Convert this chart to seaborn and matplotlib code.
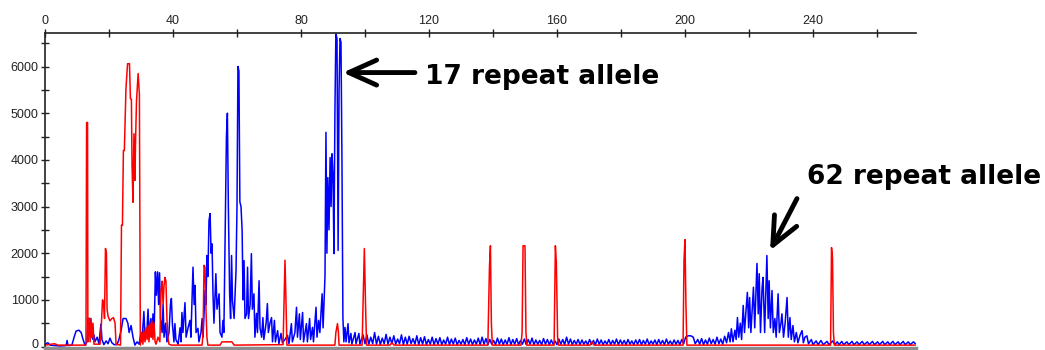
import matplotlib
matplotlib.use("Agg")
import matplotlib.pyplot as plt
import matplotlib.transforms as mtransforms
import seaborn as sns
import pandas as pd
from matplotlib.ticker import MultipleLocator

# ---------------- data ----------------
# size axis in bp units, signal in RFU
blue_main = [
    (0, 50), (0.9, 80), (1.6, 30), (3.1, 20), (4.7, 10), (6.6, 20), (6.9, 130), (7.2, 20), (8.4, 30),
    (9.1, 200), (9.7, 330), (10.6, 350), (11.3, 300), (11.9, 150), (12.5, 30), (13.1, 100), (13.4, 600),
    (14.1, 600), (14.4, 250), (15.0, 150), (15.3, 250), (15.6, 100), (16.3, 200), (16.9, 50), (17.2, 300),
    (17.5, 480), (17.8, 150), (18.4, 40), (19.1, 120), (19.7, 60), (20.3, 180), (20.9, 80), (21.6, 40),
    (22.5, 40), (23.1, 150), (23.8, 350), (24.4, 600), (25.3, 600), (25.9, 500), (26.3, 300), (26.9, 450),
    (27.5, 200), (28.1, 30), (28.75, 100), (29.4, 50), (30.0, 300), (30.3, 100), (30.9, 750), (31.25, 200),
    (31.9, 400), (32.2, 800), (32.5, 300), (33.1, 600), (33.4, 200), (33.75, 700), (34.1, 300), (34.5, 1600),
    (34.8, 1100), (35.2, 1600), (35.5, 900), (35.8, 1580), (36.1, 600), (36.6, 300), (36.9, 900), (37.2, 200),
    (37.7, 500), (38.1, 100), (38.75, 300), (39.2, 900), (39.5, 1030), (39.8, 500), (40.3, 100), (40.6, 490),
    (40.9, 150), (41.6, 50), (42.2, 400), (42.5, 100), (42.8, 730), (43.1, 300), (43.75, 940), (44.1, 200),
    (44.7, 400), (45.3, 560), (45.6, 200), (46.25, 1700), (46.6, 900), (46.9, 1310), (47.2, 300), (47.8, 390),
    (48.1, 100), (48.75, 300), (49.1, 600), (49.4, 200), (50.0, 1200), (50.3, 900), (50.6, 1950), (50.9, 1500),
    (51.25, 2700), (51.6, 2850), (51.9, 2000), (52.2, 2200), (52.5, 1130), (52.8, 500), (53.4, 1560),
    (53.75, 800), (54.4, 1130), (54.7, 300), (55.3, 200), (55.6, 560), (55.9, 300), (56.4, 3000), (56.7, 4500),
    (57.0, 5000), (57.3, 3000), (57.7, 1130), (58.0, 600), (58.3, 1950), (58.6, 980), (59.1, 600), (59.7, 1630),
    (60.0, 3000), (60.3, 6000), (60.6, 5900), (60.9, 3100), (61.25, 3000), (61.6, 2500), (61.9, 1000),
    (62.2, 1840), (62.5, 600), (63.0, 700), (63.3, 1700), (63.6, 600), (64.1, 900), (64.5, 1990), (64.8, 800),
    (65.3, 1130), (65.6, 200), (66.1, 710), (66.4, 300), (66.9, 1410), (67.2, 400), (67.7, 200), (68.1, 620),
    (68.4, 150), (69.1, 500), (69.5, 920), (69.8, 300), (70.3, 500), (70.8, 620), (71.1, 100), (71.7, 560),
    (72.0, 100), (72.7, 340), (73.1, 60), (73.75, 280), (74.2, 80), (75.0, 150), (75.8, 240), (76.25, 60),
    (77.0, 490), (77.3, 100), (78.1, 300), (78.6, 840), (78.9, 200), (79.5, 700), (79.8, 150), (80.5, 730),
    (80.8, 100), (81.7, 490), (82.0, 100), (82.7, 600), (83.0, 150), (83.6, 410), (83.9, 100), (84.7, 840),
    (85.0, 200), (85.5, 560), (85.9, 300), (86.6, 1130), (86.9, 400), (87.2, 920), (87.5, 1500), (87.8, 4590),
    (88.1, 2000), (88.4, 3620), (88.75, 2500), (89.1, 4050), (89.4, 3000), (89.7, 4130), (90.0, 3700),
    (90.3, 1990), (90.6, 5000), (90.9, 6700), (91.25, 6600), (91.6, 2060), (91.9, 5500), (92.2, 6600),
    (92.5, 6520), (92.8, 4000), (93.1, 620), (93.4, 100), (93.75, 410), (94.1, 100), (94.7, 490), (95.0, 80),
    (95.6, 280), (95.9, 50), (96.9, 300), (97.2, 60), (98.1, 280), (98.4, 50), (99.4, 250),
]

blue_noise = [
    (100.0, 60), (100.6, 250), (101.2, 50), (101.8, 200), (102.4, 60), (103.0, 300), (103.6, 50), (104.2, 220),
    (104.8, 40), (105.4, 180), (106.0, 60), (106.6, 260), (107.2, 50), (107.8, 200), (108.4, 60), (109.0, 230),
    (109.6, 50), (110.2, 160), (110.8, 60), (111.4, 250), (112.0, 40), (112.6, 200), (113.2, 50), (113.8, 220),
    (114.4, 60), (115.0, 170), (115.6, 50), (116.2, 230), (116.8, 40), (117.4, 190), (118.0, 50), (118.6, 210),
    (119.2, 40), (119.8, 150), (120.4, 50), (121.0, 200), (121.6, 40), (122.2, 170), (122.8, 50), (123.4, 190),
    (124.0, 40), (124.6, 140), (125.2, 50), (125.8, 200), (126.4, 40), (127.0, 160), (127.6, 50), (128.2, 180),
    (128.8, 40), (129.4, 130), (130.0, 50), (130.6, 150), (131.2, 40), (131.8, 190), (132.4, 50), (133.0, 160),
    (133.6, 40), (134.2, 140), (134.8, 50), (135.4, 180), (136.0, 40), (136.6, 200), (137.2, 50), (137.8, 170),
    (138.4, 40), (139.0, 150), (139.6, 50), (140.2, 130), (140.8, 40), (141.4, 180), (142.0, 50), (142.6, 160),
    (143.2, 40), (143.8, 140), (144.4, 50), (145.0, 190), (145.6, 40), (146.2, 150), (146.8, 50), (147.4, 170),
    (148.0, 40), (148.6, 130), (149.2, 50), (149.8, 160), (150.4, 40), (151.0, 150), (151.6, 50), (152.2, 180),
    (152.8, 40), (153.4, 140), (154.0, 50), (154.6, 130), (155.2, 40), (155.8, 170), (156.4, 50), (157.0, 150),
    (157.6, 40), (158.2, 140), (158.8, 50), (159.4, 120), (160.0, 40), (160.6, 160), (161.2, 50), (161.8, 150),
    (162.4, 40), (163.0, 200), (163.6, 50), (164.2, 160), (164.8, 40), (165.4, 130), (166.0, 50), (166.6, 150),
    (167.2, 40), (167.8, 140), (168.4, 50), (169.0, 120), (169.6, 40), (170.2, 150), (170.8, 50), (171.4, 130),
    (172.0, 40), (172.6, 160), (173.2, 50), (173.8, 140), (174.4, 40), (175.0, 120), (175.6, 50), (176.2, 150),
    (176.8, 40), (177.4, 130), (178.0, 50), (178.6, 160), (179.2, 40), (179.8, 140), (180.4, 50), (181.0, 130),
    (181.6, 40), (182.2, 150), (182.8, 50), (183.4, 120), (184.0, 40), (184.6, 140), (185.2, 50), (185.8, 150),
    (186.4, 40), (187.0, 130), (187.6, 50), (188.2, 160), (188.8, 40), (189.4, 120), (190.0, 50), (190.6, 140),
    (191.2, 40), (191.8, 150), (192.4, 50), (193.0, 130), (193.6, 40), (194.2, 160), (194.8, 50), (195.4, 120),
    (196.0, 40), (196.6, 140), (197.2, 50), (197.8, 130), (198.4, 40), (199.0, 150), (199.6, 60), (200.2, 200),
    (201.0, 230), (201.8, 230), (202.6, 200), (203.2, 60), (204.0, 150), (204.6, 50), (205.2, 170), (205.8, 40),
    (206.4, 140), (207.0, 50), (207.6, 180), (208.2, 60), (208.8, 150), (209.4, 50), (210.0, 200), (210.6, 60),
    (211.2, 160), (211.8, 50), (212.4, 220), (213.0, 80),
]

blue_cluster = [
    (213.6, 300), (214.1, 100), (214.5, 380), (215.0, 100), (215.6, 350), (216.0, 150), (216.4, 620),
    (216.8, 200), (217.3, 500), (217.7, 150), (218.2, 880), (218.6, 300), (219.0, 700), (219.5, 1160),
    (219.9, 400), (220.2, 1050), (220.6, 300), (221.0, 800), (221.4, 1270), (221.8, 400), (222.5, 1780),
    (222.9, 700), (223.2, 1560), (223.6, 300), (224.1, 1260), (224.4, 1480), (224.9, 300), (225.6, 1950),
    (226.0, 600), (226.3, 1410), (226.7, 400), (227.2, 1200), (227.6, 300), (228.1, 600), (228.5, 200),
    (229.1, 1130), (229.5, 300), (230.0, 500), (230.3, 700), (230.8, 200), (231.3, 500), (231.9, 1050),
    (232.3, 200), (232.8, 620), (233.2, 150), (233.75, 450), (234.2, 100), (234.8, 300), (235.3, 80),
    (236.0, 250), (236.6, 340), (237.0, 80), (237.5, 200), (238.1, 230), (238.6, 60), (239.5, 150),
    (240.0, 40), (241.0, 120), (241.6, 40), (242.5, 130), (243.2, 40), (244.4, 110), (245.0, 40),
    (246.2, 120), (246.8, 40), (247.6, 100), (248.2, 40), (249.0, 110), (249.6, 40), (250.6, 100),
    (251.2, 40), (252.2, 110), (252.8, 40), (253.8, 100), (254.4, 40), (255.4, 110), (256.0, 40),
    (257.0, 100), (257.6, 40), (258.6, 110), (259.2, 40), (260.2, 100), (260.8, 40), (261.8, 110),
    (262.4, 40), (263.4, 100), (264.0, 40), (265.0, 110), (265.6, 40), (266.6, 100), (267.2, 40),
    (268.2, 110), (268.8, 40), (269.8, 100), (270.4, 40), (271.4, 100), (272.0, 60),
]

red_trace = [
    (0, 30), (3, 60), (4, 30), (12.8, 30), (13.0, 4800), (13.3, 4800), (13.4, 100), (13.75, 600), (14.1, 100),
    (14.4, 600), (14.7, 200), (15.0, 500), (15.3, 50), (17.2, 50), (17.5, 300), (17.97, 1000), (18.3, 950),
    (18.6, 600), (18.9, 2100), (19.2, 2000), (19.4, 800), (19.7, 650), (20.3, 550), (20.9, 600), (21.4, 620),
    (21.9, 500), (22.2, 50), (23.6, 30), (23.9, 2600), (24.2, 2600), (24.5, 4200), (24.8, 4200), (25.3, 5530),
    (25.8, 6060), (26.4, 6060), (26.7, 5310), (27.0, 5300), (27.2, 3880), (27.5, 3090), (27.8, 4560),
    (28.1, 3560), (28.3, 4400), (28.6, 5270), (29.1, 5850), (29.5, 5400), (29.8, 30), (30.3, 300), (30.6, 50),
    (30.9, 350), (31.25, 100), (31.6, 400), (31.9, 150), (32.2, 450), (32.5, 100), (32.8, 500), (33.1, 200),
    (33.4, 550), (33.75, 150), (34.1, 500), (34.4, 100), (34.7, 50), (35.3, 200), (35.9, 100), (36.25, 1200),
    (36.6, 1400), (36.9, 900), (37.2, 1300), (37.5, 1480), (37.8, 1400), (38.1, 600), (38.4, 200), (38.75, 50),
    (39.5, 30), (49.1, 30), (49.4, 300), (49.7, 1740), (50.0, 1700), (50.3, 800), (50.6, 200), (50.9, 30),
    (54.7, 30), (55.3, 100), (58.4, 100), (59.1, 30), (74.4, 40), (74.7, 1000), (75.0, 1850), (75.3, 1000),
    (75.6, 30), (90.6, 30), (90.9, 300), (91.4, 490), (91.7, 300), (91.9, 30), (99.1, 30), (99.5, 1200),
    (99.8, 2100), (100.2, 800), (100.5, 30), (107.8, 30), (108.4, 80), (109.1, 30), (138.4, 30), (138.9, 1700),
    (139.2, 2160), (139.5, 500), (139.8, 30), (148.75, 30), (149.1, 300), (149.4, 2160), (150.0, 2160),
    (150.3, 300), (150.6, 30), (159.1, 30), (159.5, 2160), (159.8, 1800), (160.2, 200), (160.5, 30),
    (170.3, 30), (170.9, 100), (171.6, 30), (199.4, 30), (199.7, 1850), (200.0, 2290), (200.3, 900),
    (200.6, 30), (245.5, 30), (245.8, 2120), (246.1, 1900), (246.4, 300), (246.7, 30), (272, 30),
]

x_ticks = [0, 40, 80, 120, 160, 200, 240]
y_ticks = [0, 1000, 2000, 3000, 4000, 5000, 6000]

label_17 = "17 repeat allele"
label_62 = "62 repeat allele"
arrow_17 = {"tip": (93.1, 5870), "tail": (115.6, 5870), "text": (118.8, 5770)}
arrow_62 = {"tip": (226.6, 2057), "tail": (235.0, 3170), "text": (238.1, 3640)}

# ---------------- plot ----------------
sns.set_theme(style="white")
plt.rcParams["font.family"] = ["Liberation Sans", "DejaVu Sans"]

blue_df = pd.DataFrame(blue_main + blue_noise + blue_cluster, columns=["size", "rfu"])
red_df = pd.DataFrame(red_trace, columns=["size", "rfu"])

fig = plt.figure(figsize=(10.45, 3.5), dpi=100)
fig.patch.set_facecolor("white")
ax = fig.add_axes([45 / 1045, 2.5 / 350, 871 / 1045, 314.5 / 350])
ax.set_facecolor("white")

sns.lineplot(data=blue_df, x="size", y="rfu", ax=ax, color="#0000FF", lw=1.1,
             estimator=None, sort=False)
sns.lineplot(data=red_df, x="size", y="rfu", ax=ax, color="#FF0000", lw=1.1,
             estimator=None, sort=False)

ax.set_xlim(0, 272.2)
ax.set_ylim(-21, 6718)
ax.set_xlabel("")
ax.set_ylabel("")

ax.xaxis.tick_top()
ax.set_xticks(x_ticks)
ax.set_xticklabels([str(v) for v in x_ticks])
ax.xaxis.set_minor_locator(MultipleLocator(20))
ax.set_yticks(y_ticks)
ax.set_yticklabels([str(v) for v in y_ticks])
ax.yaxis.set_minor_locator(MultipleLocator(500))

ax.tick_params(axis="both", which="both", direction="inout", length=6, width=1,
               color="#222222", labelsize=9, labelcolor="#222222")
ax.tick_params(axis="x", which="both", top=True, bottom=False, pad=1.5)
ax.tick_params(axis="y", which="both", left=True, right=False, pad=1.5)

# nudge the "0" y label up slightly so it stays inside the canvas
zero_lab = ax.get_yticklabels()[0]
zero_lab.set_transform(zero_lab.get_transform() +
                       mtransforms.ScaledTranslation(0, 2.5 / 72, fig.dpi_scale_trans))

for side in ["top", "left"]:
    ax.spines[side].set_visible(True)
    ax.spines[side].set_color("#222222")
    ax.spines[side].set_linewidth(1.2)
ax.spines["right"].set_visible(False)
ax.spines["bottom"].set_color("#8c8c8c")
ax.spines["bottom"].set_linewidth(2.5)

for arr, lab in [(arrow_17, label_17), (arrow_62, label_62)]:
    ax.annotate("", xy=arr["tip"], xytext=arr["tail"], xycoords="data",
                arrowprops=dict(arrowstyle="->, head_length=1.0, head_width=0.45",
                                lw=3.5, color="black", mutation_scale=20,
                                shrinkA=0, shrinkB=0),
                annotation_clip=False)
    ax.text(arr["text"][0], arr["text"][1], lab, fontsize=19, fontweight="bold",
            family=["DejaVu Sans"], color="black", ha="left", va="center", clip_on=False)

fig.savefig("out.png", dpi=100)
